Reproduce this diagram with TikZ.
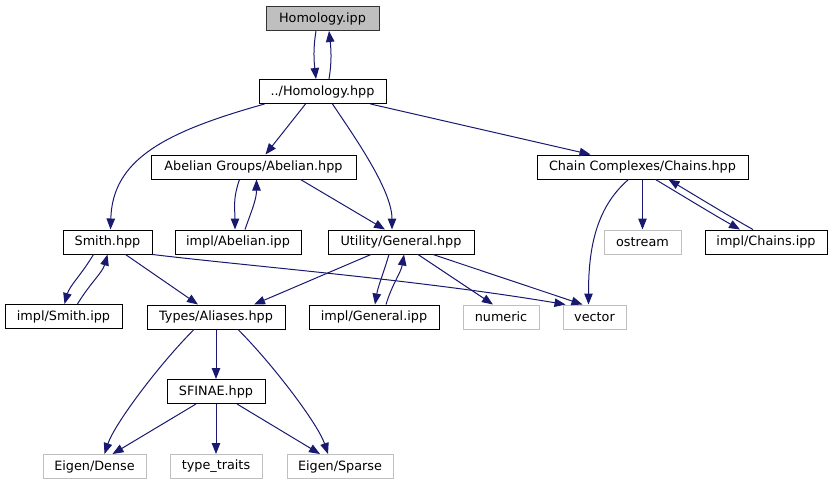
\documentclass[tikz,border=0pt]{standalone}
\usepackage{fontspec}
\setmainfont{DejaVu Sans}
\usetikzlibrary{arrows.meta,calc}
\definecolor{edgeblue}{HTML}{191970}
\definecolor{boxgray}{HTML}{BFBFBF}
\begin{document}
\begin{tikzpicture}[x=1pt,y=-1pt,
  box/.style={draw=black, line width=1pt, fill=white, minimum height=24pt, inner sep=0pt, font=\fontsize{12.8}{14}\selectfont},
  ext/.style={box, draw=boxgray},
  root/.style={box, fill=boxgray, draw=black!80},
  dep/.style={draw=edgeblue, line width=1pt, -{Triangle[length=11pt,width=8.5pt]}}]
\useasboundingbox (0,0) rectangle (833,485);
\node[root, minimum width=113pt] (hipp) at (322.5,18.5) {Homology.ipp};
\node[box, minimum width=127pt] (hhpp) at (322.5,91.5) {../Homology.hpp};
\node[box, minimum width=205pt] (abel) at (253.5,167) {Abelian Groups/Abelian.hpp};
\node[box, minimum width=211pt] (chains) at (642.5,167) {Chain Complexes/Chains.hpp};
\node[box, minimum width=89pt] (smith) at (107.5,242) {Smith.hpp};
\node[box, minimum width=126pt] (iabel) at (238,242) {impl/Abelian.ipp};
\node[box, minimum width=146pt] (util) at (401,242) {Utility/General.hpp};
\node[ext, minimum width=77pt] (ostream) at (642.5,242) {ostream};
\node[box, minimum width=122pt] (ichains) at (766,242) {impl/Chains.ipp};
\node[box, minimum width=117pt] (ismith) at (63.5,316.5) {impl/Smith.ipp};
\node[box, minimum width=138pt] (types) at (216,317) {Types/Aliases.hpp};
\node[box, minimum width=130pt] (igen) at (374,317) {impl/General.ipp};
\node[ext, minimum width=76pt] (numeric) at (501,317) {numeric};
\node[ext, minimum width=63pt] (vector) at (594.5,317) {vector};
\node[box, minimum width=98pt] (sfinae) at (216,391.5) {SFINAE.hpp};
\node[ext, minimum width=103pt] (dense) at (94.5,466.5) {Eigen/Dense};
\node[ext, minimum width=92pt] (traits) at (216,466.5) {type\_traits};
\node[ext, minimum width=106pt] (sparse) at (340,466.5) {Eigen/Sparse};

% Homology.ipp <-> ../Homology.hpp
\draw[dep] ([xshift=-6.5pt]hipp.south) .. controls +(-3,18) and +(-2,-18) .. ([xshift=-6.5pt]hhpp.north);
\draw[dep] ([xshift=6.5pt]hhpp.north) .. controls +(3,-18) and +(2,18) .. ([xshift=6.5pt]hipp.south);
% ../Homology.hpp
\draw[dep] ([xshift=-58pt]hhpp.south) .. controls +(-100,28) and +(2,-70) .. ([xshift=3pt]smith.north);
\draw[dep] ([xshift=-17pt]hhpp.south) -- ([xshift=12pt]abel.north);
\draw[dep] ([xshift=10pt]hhpp.south) .. controls +(20,30) and +(0,-40) .. ([xshift=-9pt]util.north);
\draw[dep] ([xshift=48pt]hhpp.south) -- ([xshift=-52pt]chains.north);
% Abelian
\draw[dep] ([xshift=-14pt]abel.south) .. controls +(-7,20) and +(0,-20) .. ([xshift=-3pt]iabel.north);
\draw[dep] ([xshift=7pt]iabel.north) .. controls +(7,-20) and +(0,20) .. ([xshift=3pt]abel.south);
\draw[dep] ([xshift=47pt]abel.south) -- ([xshift=-16pt]util.north);
% Chains
\draw[dep] ([xshift=-14pt]chains.south) .. controls +(-35,30) and +(0,-50) .. ([xshift=-6pt]vector.north);
\draw[dep] (chains.south) -- (ostream.north);
\draw[dep] ([xshift=13pt]chains.south) .. controls +(30,18) and +(-25,-14) .. ([xshift=-26pt]ichains.north);
\draw[dep] ([xshift=-13pt]ichains.north) .. controls +(-25,-14) and +(30,18) .. ([xshift=26pt]chains.south);
% Smith
\draw[dep] ([xshift=-14pt]smith.south) .. controls +(-12,20) and +(5,-18) .. ([xshift=1pt]ismith.north);
\draw[dep] ([xshift=14pt]ismith.north) .. controls +(12,-20) and +(-5,18) .. (smith.south);
\draw[dep] ([xshift=18pt]smith.south) -- ([xshift=-18pt]types.north);
\draw[dep] (smith.south east) .. controls +(100,12) and +(-150,-25) .. ([xshift=3pt]vector.north west);
% Utility
\draw[dep] ([xshift=-30pt]util.south) -- ([xshift=38pt]types.north);
\draw[dep] ([xshift=-12pt]util.south) .. controls +(-6,20) and +(3,-18) .. ([xshift=1pt]igen.north);
\draw[dep] ([xshift=12pt]igen.north) .. controls +(6,-20) and +(-3,18) .. ([xshift=3pt]util.south);
\draw[dep] ([xshift=17pt]util.south) -- ([xshift=-8pt]numeric.north);
\draw[dep] ([xshift=32pt]util.south) -- ([xshift=-12pt]vector.north);
% Types
\draw[dep] (types.south) -- (sfinae.north);
\draw[dep] ([xshift=-22pt]types.south) .. controls +(-35,35) and +(10,-30) .. ([xshift=10pt]dense.north);
\draw[dep] ([xshift=22pt]types.south) .. controls +(35,35) and +(-10,-30) .. ([xshift=-12pt]sparse.north);
% SFINAE
\draw[dep] ([xshift=-20pt]sfinae.south) -- ([xshift=18pt]dense.north);
\draw[dep] (sfinae.south) -- (traits.north);
\draw[dep] ([xshift=21pt]sfinae.south) -- ([xshift=-20pt]sparse.north);
\end{tikzpicture}
\end{document}
